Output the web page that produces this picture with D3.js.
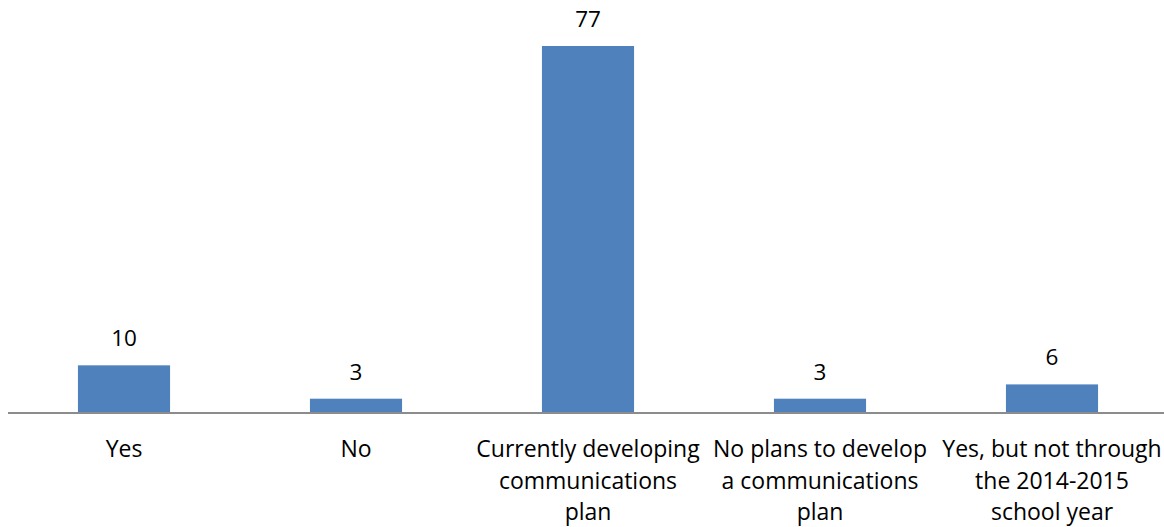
<!DOCTYPE html>
<html>
  <head>
    <meta charset="utf-8">
    <script src="https://d3js.org/d3.v7.min.js"></script>
    <style>
      body { margin: 0; background: #fff; }
      text { font-family: "Open Sans", sans-serif; fill: #000; }
    </style>
  </head>
  <body>
    <svg width="1164" height="527"></svg>
    <script>
      var categories = ["Yes", "No", "Currently developing", "No plans to develop", "Yes, but not through"];
      var values = [10, 3, 77, 3, 6];
      // wrapped tick labels, one array of lines per category
      var tickLabels = [
        ["Yes"],
        ["No"],
        ["Currently developing", "communications", "plan"],
        ["No plans to develop", "a communications", "plan"],
        ["Yes, but not through", "the 2014-2015", "school year"]
      ];

      var svg = d3.select("svg"),
          baseline = 413,
          plotTop = 46;

      var x = d3.scaleBand()
          .domain(categories)
          .range([8, 1168])
          .paddingInner(0.603)
          .paddingOuter(0.3015);

      var y = d3.scaleLinear()
          .domain([0, d3.max(values)])
          .range([baseline, plotTop]);

      svg.selectAll(".bar")
          .data(values)
        .enter().append("rect")
          .attr("class", "bar")
          .attr("x", function(d, i) { return x(categories[i]); })
          .attr("width", x.bandwidth())
          .attr("y", function(d) { return y(d); })
          .attr("height", function(d) { return baseline - y(d); })
          .attr("fill", "#4f81bd");

      // axis line
      svg.append("line")
          .attr("x1", 8).attr("x2", 1168)
          .attr("y1", baseline).attr("y2", baseline)
          .attr("stroke", "#8c8c8c")
          .attr("stroke-width", 2);

      svg.selectAll(".val")
          .data(values)
        .enter().append("text")
          .attr("class", "val")
          .attr("x", function(d, i) { return x(categories[i]) + x.bandwidth() / 2; })
          .attr("y", function(d) { return y(d) - 19; })
          .attr("text-anchor", "middle")
          .style("font-size", "22.5px")
          .text(function(d) { return d; });

      var ticks = svg.selectAll(".tick")
          .data(tickLabels)
        .enter().append("text")
          .attr("class", "tick")
          .attr("text-anchor", "middle")
          .style("font-size", "23px")
          .attr("transform", function(d, i) {
            return "translate(" + (x(categories[i]) + x.bandwidth() / 2) + ",457)";
          });

      ticks.selectAll("tspan")
          .data(function(d) { return d; })
        .enter().append("tspan")
          .attr("x", 0)
          .attr("y", function(d, j) { return j * 31.5; })
          .text(function(d) { return d; });
    </script>
  </body>
</html>
